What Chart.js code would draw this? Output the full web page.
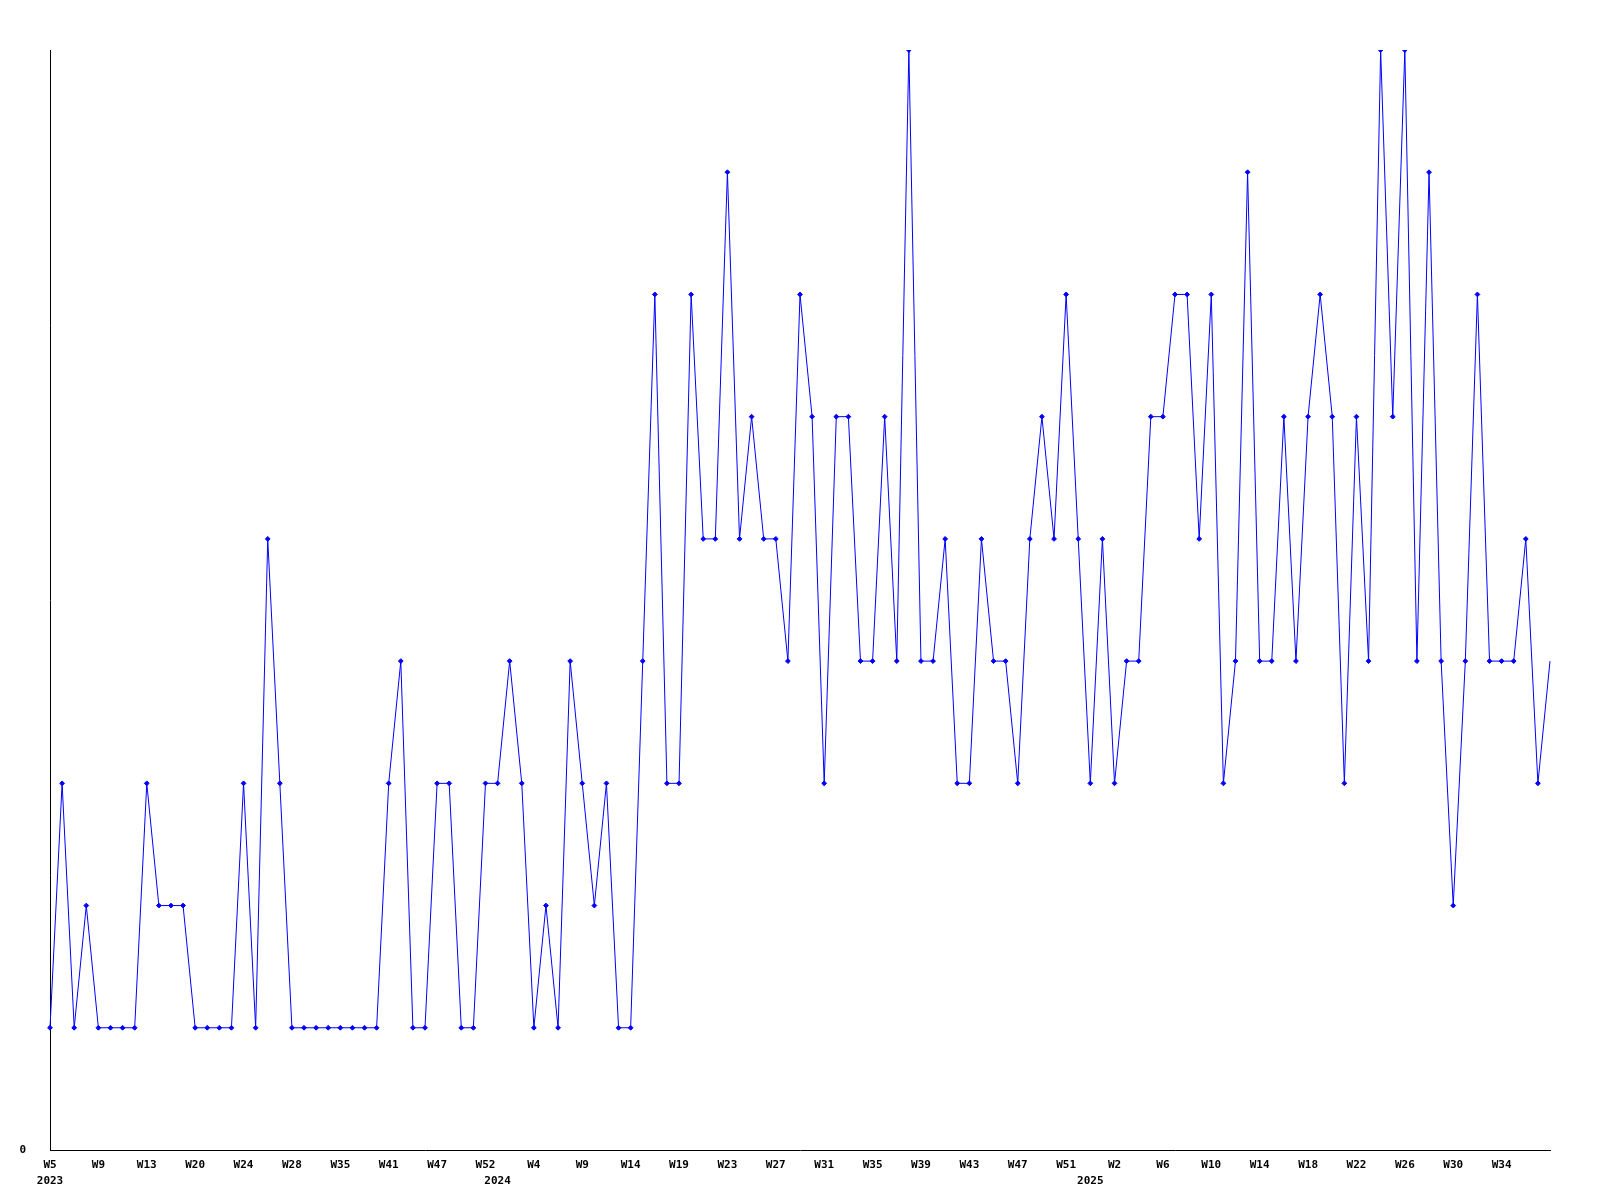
<!DOCTYPE html>
<html>
<head>
<meta charset="utf-8">
<title>Weekly count</title>
<script src="https://cdn.jsdelivr.net/npm/chart.js@4.4.1/dist/chart.umd.min.js"></script>
<style>
  html, body { margin: 0; padding: 0; background: #fff; }
  #wrap { width: 1600px; height: 1200px; }
</style>
</head>
<body>
<div id="wrap"><canvas id="chart" width="1600" height="1200"></canvas></div>
<script>
  // week numbers that have data, per year (gaps = weeks without entries)
  const weeks2023 = [5,6,7,8, 9,10,11,12, 13,14,16,18, 20,21,22,23, 24,25,26,27,
                     28,29,31,33, 35,36,38,39, 41,42,44,45, 47,48,49,51, 52];
  const weeks2024 = [1,2,3, 4,5,6,8, 9,10,11,13, 14,15,17,18, 19,20,21,22,
                     23,24,25,26, 27,28,29,30, 31,32,33,34, 35,36,37,38,
                     39,40,41,42, 43,44,45,46, 47,48,49,50, 51,52];
  const weeks2025 = [0,1, 2,3,4,5, 6,7,8,9, 10,11,12,13, 14,15,16,17, 18,19,20,21,
                     22,23,24,25, 26,27,28,29, 30,31,32,33, 34,35,36,37,38];

  const counts = [
    1,3,1,2,1,1,1,1,3,2,
    2,2,1,1,1,1,3,1,5,3,
    1,1,1,1,1,1,1,1,3,4,
    1,1,3,3,1,1,3,3,4,3,
    1,2,1,4,3,2,3,1,1,4,
    7,3,3,7,5,5,8,5,6,5,
    5,4,7,6,3,6,6,4,4,6,
    4,9,4,4,5,3,3,5,4,4,
    3,5,6,5,7,5,3,5,3,4,
    4,6,6,7,7,5,7,3,4,8,
    4,4,6,4,6,7,6,3,6,4,
    9,6,9,4,8,4,2,4,7,4,
    4,4,5,3,4
  ];

  const labelEvery = 4;   // one week label every 4 categories
  const yMax = 9;

  // categories like "2023-W5"
  const categories = []
    .concat(weeks2023.map(w => "2023-W" + w))
    .concat(weeks2024.map(w => "2024-W" + w))
    .concat(weeks2025.map(w => "2025-W" + w));

  function tickLabel(i){
    const [year, week] = categories[i].split("-");
    const prevYear = i > 0 ? categories[i - 1].split("-")[0] : null;
    // no week label when there is no room left before the right edge
    const showWeek = i % labelEvery === 0 && i + labelEvery <= categories.length - 1;
    const showYear = year !== prevYear;
    if(!showWeek && !showYear) return null;
    return [showWeek ? week : "", showYear ? year : ""];
  }

  const tickFont = { family: "'DejaVu Sans Mono', monospace", size: 11, weight: "bold", lineHeight: 16 / 11 };

  new Chart(document.getElementById("chart").getContext("2d"), {
    type: "line",
    data: {
      labels: categories,
      datasets: [{
        data: counts,
        borderColor: "#0000ff",
        backgroundColor: "#0000ff",
        borderWidth: 1,
        tension: 0,
        fill: false,
        pointStyle: "rectRot",
        pointRadius: ctx => ctx.dataIndex === counts.length - 1 ? 0 : 2.4,
        pointBorderWidth: 1,
        pointBorderColor: "#0000ff",
        pointBackgroundColor: "#0000ff"
      }]
    },
    options: {
      responsive: false,
      animation: false,
      layout: { padding: { top: 50, right: 50, left: 0, bottom: 0 } },
      plugins: {
        legend: { display: false },
        tooltip: { enabled: false }
      },
      scales: {
        x: {
          type: "category",
          offset: false,
          grid: { display: false, drawTicks: false },
          border: { display: true, color: "#000", width: 1 },
          ticks: {
            autoSkip: false,
            maxRotation: 0,
            minRotation: 0,
            padding: 7,
            color: "#000",
            font: tickFont,
            callback: (val, i) => tickLabel(i)
          },
          afterFit: s => { s.height = 50; }
        },
        y: {
          min: 0,
          max: yMax,
          grid: { display: false, drawTicks: false },
          border: { display: true, color: "#000", width: 1 },
          ticks: {
            stepSize: 1,
            padding: 24,
            color: "#000",
            font: tickFont,
            callback: v => v === 0 ? "0" : null
          },
          afterFit: s => { s.width = 50; }
        }
      }
    }
  });
</script>
</body>
</html>
